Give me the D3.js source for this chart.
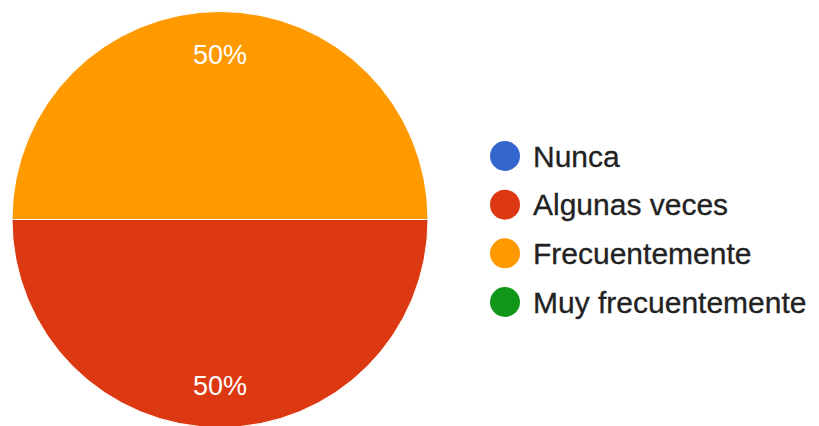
<!DOCTYPE html>
<html>
<head>
<meta charset="utf-8">
<script src="https://cdn.jsdelivr.net/npm/d3@7"></script>
<style>
  html, body { margin: 0; padding: 0; background: #fff; }
  svg { display: block; font-family: Arial, "Liberation Sans", sans-serif; }
</style>
</head>
<body>
<div id="chart-container"></div>
<script>
const categories = ['Nunca', 'Algunas veces', 'Frecuentemente', 'Muy frecuentemente'];
const counts = [0, 1, 1, 0];
const colors = ['#3366cc', '#dc3912', '#ff9900', '#109618'];

const width = 819;
const height = 426;
const cx = 220, cy = 219.5, radius = 208;

const svg = d3.select('#chart-container').append('svg')
  .attr('width', width).attr('height', height);

const data = categories.map((name, i) => ({ name, value: counts[i], color: colors[i] }));
const total = d3.sum(counts);

// slices start at 3 o'clock and run clockwise
const pie = d3.pie().sort(null).value(d => d.value)
  .startAngle(Math.PI / 2).endAngle(Math.PI / 2 + 2 * Math.PI);
const arcs = pie(data).filter(a => a.data.value > 0);

const arc = d3.arc().innerRadius(0).outerRadius(radius);
const labelArc = d3.arc().innerRadius(radius * 0.795).outerRadius(radius * 0.795);

const g = svg.append('g').attr('transform', `translate(${cx}, ${cy})`);

g.selectAll('path').data(arcs).enter().append('path')
  .attr('d', arc)
  .attr('fill', d => d.data.color)
  .attr('stroke', '#fff')
  .attr('stroke-width', 1);

g.selectAll('text').data(arcs).enter().append('text')
  .attr('transform', d => `translate(${labelArc.centroid(d)})`)
  .attr('text-anchor', 'middle')
  .attr('dy', '0.36em')
  .attr('fill', '#fff')
  .style('font-size', '27px')
  .text(d => `${Math.round(d.data.value / total * 100)}%`);

const legendY = d3.scalePoint().domain(categories).range([156, 302]);

const legend = svg.append('g').selectAll('g').data(data).enter().append('g')
  .attr('transform', d => `translate(505, ${legendY(d.name)})`);

legend.append('circle')
  .attr('r', 15)
  .attr('fill', d => d.color);

legend.append('text')
  .attr('x', 28)
  .attr('dy', '0.36em')
  .attr('fill', '#222')
  .attr('stroke', '#222')
  .attr('stroke-width', 0.3)
  .style('font-size', '30px')
  .text(d => d.name);
</script>
</body>
</html>
